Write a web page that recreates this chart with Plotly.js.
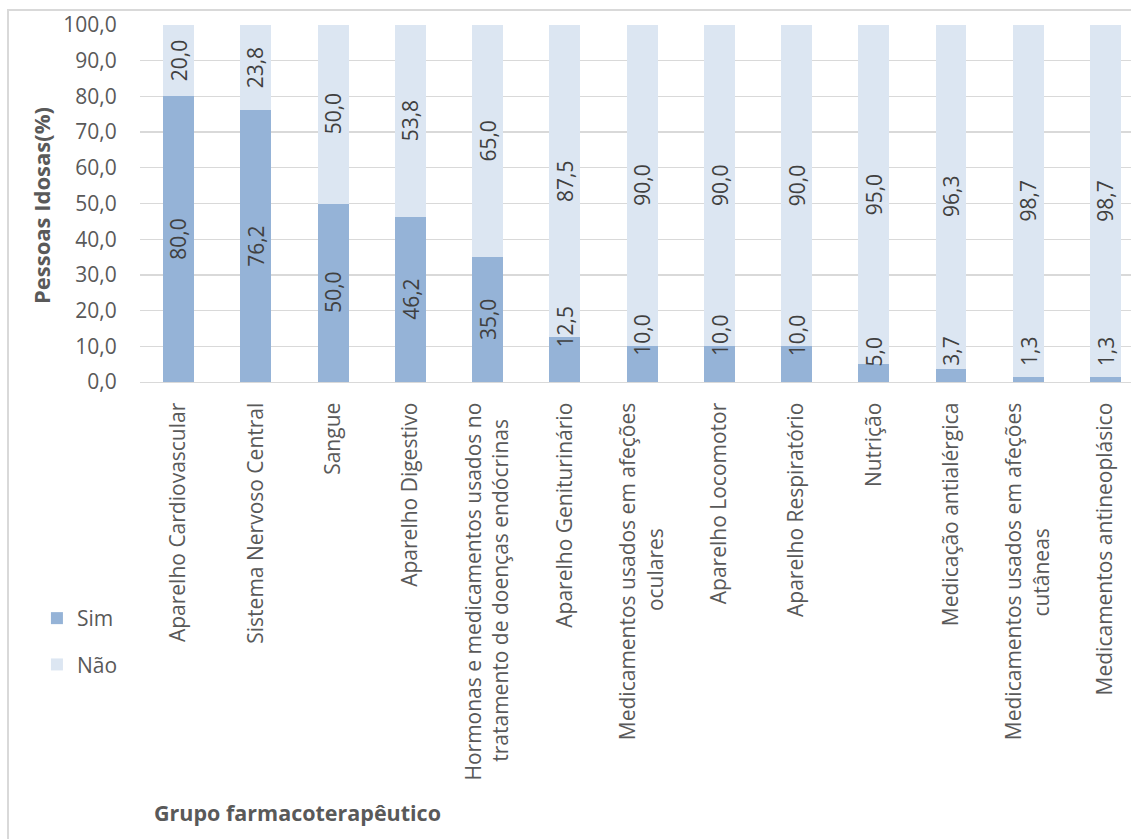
<!DOCTYPE html>
<html>
<head>
<meta charset="utf-8">
<script src="https://cdn.plot.ly/plotly-3.0.1.min.js"></script>
<style>
html,body{margin:0;padding:0;background:#fff;overflow:hidden;width:1131px;height:839px}
#frame{position:absolute;left:7px;top:9px;width:1200px;height:900px;border:2px solid #D9D9D9;box-sizing:border-box}
#chart{position:absolute;left:0;top:0}
</style>
</head>
<body>
<div id="frame"><div id="chart" style="width:1122px;height:828px"></div></div>
<script>
const categories = [
  "Aparelho Cardiovascular",
  "Sistema Nervoso Central",
  "Sangue",
  "Aparelho Digestivo",
  "Hormonas e medicamentos usados no<br>tratamento de doenças endócrinas",
  "Aparelho Geniturinário",
  "Medicamentos usados em afeções<br>oculares",
  "Aparelho Locomotor",
  "Aparelho Respiratório",
  "Nutrição",
  "Medicação antialérgica",
  "Medicamentos usados em afeções<br>cutâneas",
  "Medicamentos antineoplásico"
];
const sim = [80.0, 76.2, 50.0, 46.2, 35.0, 12.5, 10.0, 10.0, 10.0, 5.0, 3.7, 1.3, 1.3];
const nao = [20.0, 23.8, 50.0, 53.8, 65.0, 87.5, 90.0, 90.0, 90.0, 95.0, 96.3, 98.7, 98.7];
const yTicks = [0, 10, 20, 30, 40, 50, 60, 70, 80, 90, 100];

const FONT = "Open Sans, Noto Sans, sans-serif";
const FS = 21;
const GREY = "#595959";
const LABEL = "#404040";
const fmt = v => v.toFixed(1).replace(".", ",");

// center multi-line tick labels (rotated labels are end-aligned by default)
const ctx = document.createElement("canvas").getContext("2d");
ctx.font = FS + "px 'Open Sans'";
const nbspW = ctx.measureText("\u00A0").width || FS * 0.26;
const tickText = categories.map(c => {
  const lines = c.split("<br>");
  if (lines.length < 2) return c;
  const widths = lines.map(l => ctx.measureText(l).width);
  const maxW = Math.max(...widths);
  return lines.map((l, k) => l + "\u00A0".repeat(Math.round((maxW - widths[k]) / 2 / nbspW))).join("<br>");
});

const traces = [
  {type: "bar", name: "Sim", x: categories, y: sim, marker: {color: "#95B3D7"},
   legendgroup: "a", hoverinfo: "skip"},
  {type: "bar", name: "Não", x: categories, y: nao, marker: {color: "#DCE6F2"},
   legendgroup: "b", hoverinfo: "skip"}
];

const annotations = [];
categories.forEach((c, i) => {
  const s = sim[i];
  const ys = s < 20 ? Math.max(s + 3, 8.5) : s / 2;
  annotations.push({x: c, y: ys, xref: "x", yref: "y", text: fmt(s), textangle: -90,
    xanchor: "center", yanchor: "middle",
    showarrow: false, font: {family: FONT, size: FS, color: LABEL}});
  annotations.push({x: c, y: s + nao[i] / 2, xref: "x", yref: "y", text: fmt(nao[i]), textangle: -90,
    xanchor: "center", yanchor: "middle",
    showarrow: false, font: {family: FONT, size: FS, color: LABEL}});
});
annotations.push({xref: "paper", yref: "paper", x: -0.0999, y: 0.4958, text: "<b>Pessoas Idosas(%)</b>",
  xanchor: "center", yanchor: "middle",
  textangle: -90, showarrow: false, font: {family: FONT, size: 22, color: GREY}});
annotations.push({xref: "paper", yref: "paper", x: 0.1594, y: -1.2045, text: "<b>Grupo farmacoterapêutico</b>",
  xanchor: "center", yanchor: "middle",
  showarrow: false, font: {family: FONT, size: 21.5, color: GREY}});

const layout = {
  width: 1122, height: 828,
  margin: {l: 131, r: 0, t: 14, b: 457, pad: 0},
  paper_bgcolor: "rgba(0,0,0,0)", plot_bgcolor: "#fff",
  barmode: "stack", bargap: 0.6,
  separators: ",.",
  font: {family: FONT, size: FS, color: GREY},
  xaxis: {type: "category", range: [-0.5, 12.33], tickangle: -90,
    tickvals: categories, ticktext: tickText,
    tickfont: {family: FONT, size: FS, color: GREY},
    ticks: "outside", ticklen: 11, tickcolor: "rgba(0,0,0,0)",
    showline: true, linecolor: "#D9D9D9", linewidth: 1.3, showgrid: false, fixedrange: true},
  yaxis: {range: [0, 100], tickvals: yTicks, tickformat: ".1f", ticklabeloverflow: "allow",
    tickfont: {family: FONT, size: FS, color: GREY},
    ticks: "outside", ticklen: 18, tickcolor: "rgba(0,0,0,0)",
    gridcolor: "#D9D9D9", gridwidth: 1.3, zeroline: false, showline: false, fixedrange: true},
  showlegend: true,
  legend: {x: -0.104, y: -0.605, xanchor: "left", yanchor: "top", traceorder: "grouped",
    tracegroupgap: 16, font: {family: FONT, size: FS, color: GREY}, bgcolor: "rgba(0,0,0,0)"},
  annotations: annotations
};

Plotly.newPlot("chart", traces, layout, {displayModeBar: false, staticPlot: true});
</script>
</body>
</html>
